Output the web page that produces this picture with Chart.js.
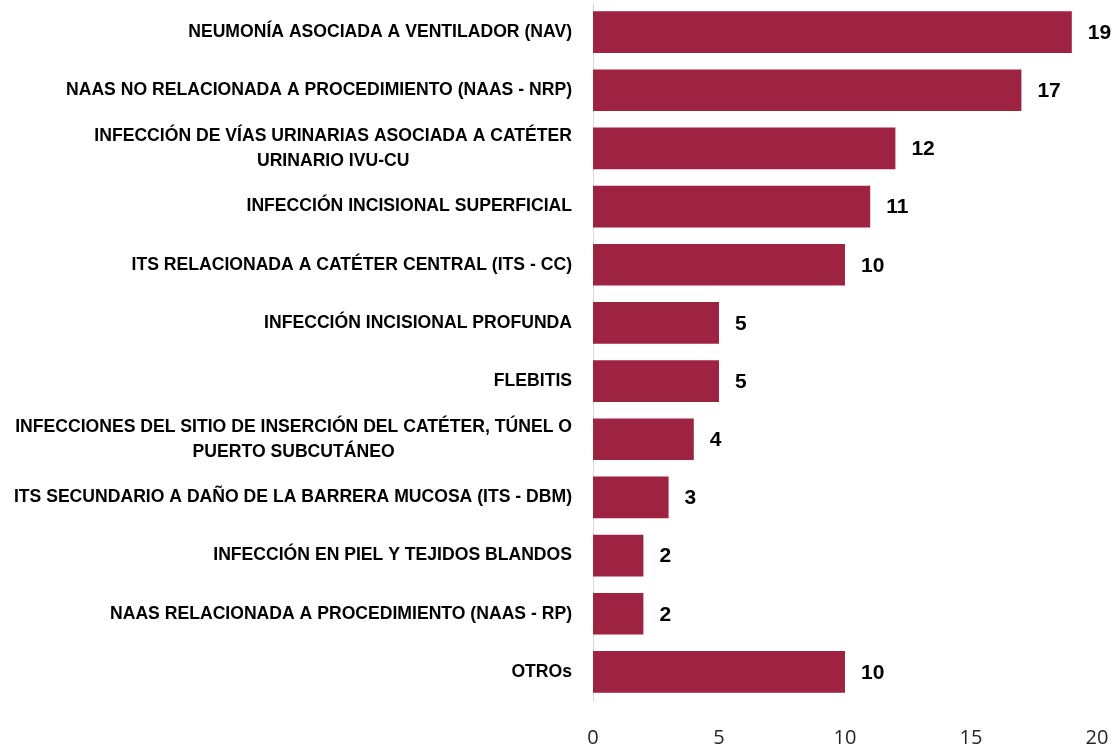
<!DOCTYPE html>
<html>
<head>
<meta charset="utf-8">
<script src="https://cdn.jsdelivr.net/npm/chart.js@4.4.1/dist/chart.umd.min.js"></script>
<style>
  html, body { margin: 0; padding: 0; background: #ffffff; overflow: hidden; }
  canvas { display: block; }
</style>
</head>
<body>
<canvas id="iaasChart" width="1118" height="748"></canvas>
<script>
// categorias (lineas separadas para etiquetas de dos renglones)
const categories = [
    ["NEUMONÍA ASOCIADA A VENTILADOR (NAV)"],
    ["NAAS NO RELACIONADA A PROCEDIMIENTO (NAAS - NRP)"],
    ["INFECCIÓN DE VÍAS URINARIAS ASOCIADA A CATÉTER", "URINARIO IVU-CU"],
    ["INFECCIÓN INCISIONAL SUPERFICIAL"],
    ["ITS RELACIONADA A CATÉTER CENTRAL (ITS - CC)"],
    ["INFECCIÓN INCISIONAL PROFUNDA"],
    ["FLEBITIS"],
    ["INFECCIONES DEL SITIO DE INSERCIÓN DEL CATÉTER, TÚNEL O", "PUERTO SUBCUTÁNEO"],
    ["ITS SECUNDARIO A DAÑO DE LA BARRERA MUCOSA (ITS - DBM)"],
    ["INFECCIÓN EN PIEL Y TEJIDOS BLANDOS"],
    ["NAAS RELACIONADA A PROCEDIMIENTO (NAAS - RP)"],
    ["OTROs"]
]
const casos = [19, 17, 12, 11, 10, 5, 5, 4, 3, 2, 2, 10]
const xTicks = [0, 5, 10, 15, 20]

const BAR_COLOR = "#9E2241"
const LABEL_FONT = 'bold 17.6px "Liberation Sans", Arial, sans-serif'

// etiquetas de categoria: una linea alineada a la derecha, dos lineas centradas entre si
const categoryLabels = {
    id: "categoryLabels",
    afterDraw(chart) {
        const ctx = chart.ctx
        const yScale = chart.scales.y
        const rightX = chart.chartArea.left - 21
        const lineH = 25
        ctx.save()
        ctx.font = LABEL_FONT
        ctx.fillStyle = "#000000"
        ctx.textBaseline = "middle"
        categories.forEach((lines, i) => {
            const yc = yScale.getPixelForTick(i)
            if (lines.length === 1) {
                ctx.textAlign = "right"
                ctx.fillText(lines[0], rightX, yc)
            } else {
                const widest = Math.max(...lines.map(l => ctx.measureText(l).width))
                const cx = rightX - widest / 2
                ctx.textAlign = "center"
                lines.forEach((l, j) => {
                    ctx.fillText(l, cx, yc + (j - (lines.length - 1) / 2) * lineH)
                })
            }
        })
        ctx.restore()
    }
}

// valores al final de cada barra
const valueLabels = {
    id: "valueLabels",
    afterDatasetsDraw(chart) {
        const ctx = chart.ctx
        const meta = chart.getDatasetMeta(0)
        ctx.save()
        ctx.font = 'bold 21px "Liberation Sans", Arial, sans-serif'
        ctx.fillStyle = "#000000"
        ctx.textAlign = "left"
        ctx.textBaseline = "middle"
        meta.data.forEach((bar, i) => {
            ctx.fillText(String(casos[i]), bar.x + 16, bar.y + 1)
        })
        ctx.restore()
    }
}

const ctx = document.getElementById("iaasChart").getContext("2d")
new Chart(ctx, {
    type: "bar",
    data: {
        labels: categories.map(c => c.join(" ")),
        datasets: [{
            data: casos,
            backgroundColor: BAR_COLOR,
            borderWidth: 0,
            categoryPercentage: 1,
            barPercentage: 0.715
        }]
    },
    options: {
        indexAxis: "y",
        responsive: false,
        maintainAspectRatio: false,
        devicePixelRatio: 1,
        animation: false,
        layout: { padding: { top: 3, right: 21, bottom: 0, left: 0 } },
        plugins: {
            legend: { display: false },
            tooltip: { enabled: false }
        },
        scales: {
            x: {
                min: 0,
                max: 20,
                afterBuildTicks: scale => { scale.ticks = xTicks.map(v => ({ value: v })) },
                afterFit: scale => {
                    scale.height = 47
                    scale.paddingLeft = 0
                    scale.paddingRight = 0
                },
                grid: { display: false, drawTicks: false },
                border: { display: false },
                ticks: {
                    padding: 25,
                    maxRotation: 0,
                    color: "#262626",
                    font: { family: '"Open Sans", sans-serif', size: 20 }
                }
            },
            y: {
                grid: { display: false, drawTicks: false },
                border: { display: true, color: "#d9d9d9", width: 1 },
                ticks: { display: false },
                afterFit: scale => { scale.width = 593 }
            }
        }
    },
    plugins: [categoryLabels, valueLabels]
})
</script>
</body>
</html>
